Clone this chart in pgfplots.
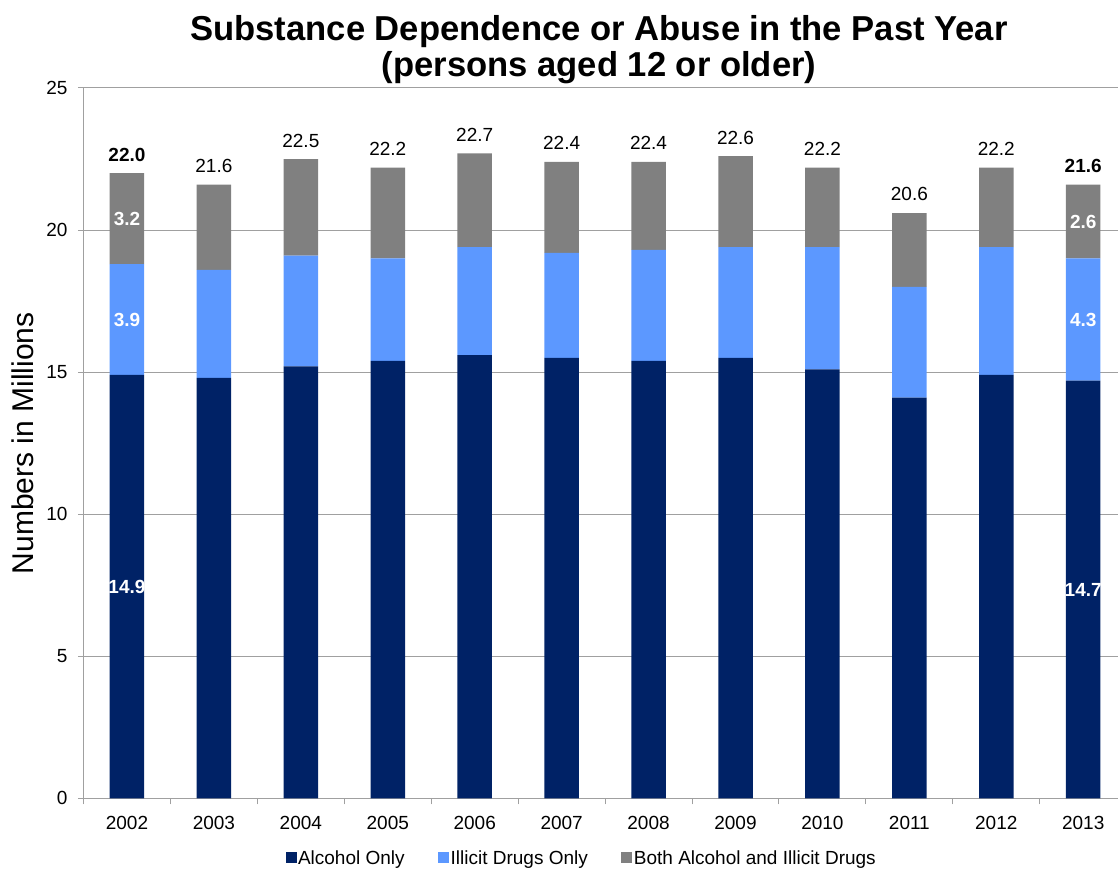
\documentclass[border=0pt]{standalone}
\usepackage{fontspec}
\setmainfont{Liberation Sans}
\usepackage{pgfplots}
\usepackage{pgfplotstable}
\pgfplotsset{compat=1.18}

\definecolor{alcohol}{RGB}{0,34,102}
\definecolor{illicit}{RGB}{92,152,255}
\definecolor{both}{RGB}{128,128,128}
\definecolor{rule}{RGB}{160,160,160}

% Past-year dependence or abuse, millions of persons aged 12+
\pgfplotstableread{
x  alc   ill  both
0  14.9  3.9  3.2
1  14.8  3.8  3.0
2  15.2  3.9  3.4
3  15.4  3.6  3.2
4  15.6  3.8  3.3
5  15.5  3.7  3.2
6  15.4  3.9  3.1
7  15.5  3.9  3.2
8  15.1  4.3  2.8
9  14.1  3.9  2.6
10 14.9  4.5  2.8
11 14.7  4.3  2.6
}\datatable

\newcommand\lbl{\fontsize{19}{22}\selectfont}

\pgfplotsset{
  panel/.style={
    scale only axis, width=1034.5pt, height=710.3pt,
    at={(0pt,0pt)}, anchor=south west,
    xmin=-0.5, xmax=11.4, ymin=0, ymax=25,
    enlargelimits=false,
  },
  % segment value printed in the middle of the first and last bars
  midlabel/.style={
    visualization depends on={rawy \as \rawy},
    visualization depends on={x \as \myx},
    nodes near coords={\ifdim\myx pt<0.5pt \pgfmathprintnumber[fixed,fixed zerofill,precision=1]{\rawy}\else\ifdim\myx pt>10.5pt \pgfmathprintnumber[fixed,fixed zerofill,precision=1]{\rawy}\fi\fi},
    every node near coord/.append style={font=\bfseries\lbl, text=white,
      anchor=center, inner sep=0pt},
  },
}

\begin{document}
\begin{tikzpicture}
\useasboundingbox (-83.5pt,-70.7pt) rectangle (1034.5pt,798.3pt);
\begin{axis}[panel,
  ybar stacked, bar width=34.5pt,
  axis x line*=bottom, axis y line*=left,
  axis line style={rule, line width=1pt, -},
  ymajorgrids, grid style={rule, line width=1pt},
  ytick={0,5,...,25},
  xtick={0,...,11},
  xticklabels={2002,2003,2004,2005,2006,2007,2008,2009,2010,2011,2012,2013},
  minor xtick={-0.5,0.5,...,10.5},
  tick align=outside,
  major tick length=5.5pt, minor tick length=6pt,
  tick style={rule, line width=1pt},
  major x tick style={draw=none},
  /pgf/number format/assume math mode=true,
  xticklabel style={font=\lbl, anchor=base, yshift=-25.5pt},
  yticklabel style={font=\lbl, anchor=east, xshift=-7pt},
  ylabel={Numbers in Millions},
  every axis y label/.style={at={(rel axis cs:-0.0488,0.5)}, rotate=90,
    anchor=base, font=\fontsize{30}{36}\selectfont, inner sep=0pt},
  title={Substance Dependence or Abuse in the Past Year\\(persons aged 12 or older)},
  every axis title/.style={at={(0.4983,1)}, anchor=south, yshift=3.5pt,
    inner sep=0pt, align=center, font=\bfseries\fontsize{34.6}{36.5}\selectfont},
  legend style={at={(0.4813,-0.084)}, anchor=center, draw=none, fill=none,
    legend columns=3, font=\lbl, inner sep=0pt,
    nodes={inner sep=1.5pt},
    /tikz/every even column/.append style={column sep=32pt}},
  legend image code/.code={\fill[#1] (0pt,-5.5pt) rectangle (11pt,5.5pt);},
]
\addplot[fill=alcohol, draw=none, midlabel] table[x=x, y=alc] {\datatable};
\addplot[fill=illicit, draw=none, midlabel] table[x=x, y=ill] {\datatable};
\addplot[fill=both, draw=none, midlabel] table[x=x, y=both] {\datatable};
\legend{Alcohol Only, Illicit Drugs Only, Both Alcohol and Illicit Drugs}
\end{axis}

% totals above each bar
\begin{axis}[panel, hide axis, clip=false]
\addplot[draw=none, mark=none, nodes near coords, point meta=explicit symbolic,
  every node near coord/.append style={font=\lbl, anchor=base, yshift=12pt, inner sep=0pt}]
  coordinates {
    (0,22.0) [\textbf{22.0}] (1,21.6) [21.6] (2,22.5) [22.5] (3,22.2) [22.2]
    (4,22.7) [22.7] (5,22.4) [22.4] (6,22.4) [22.4] (7,22.6) [22.6]
    (8,22.2) [22.2] (9,20.6) [20.6] (10,22.2) [22.2] (11,21.6) [\textbf{21.6}]
  };
\end{axis}
\end{tikzpicture}
\end{document}
